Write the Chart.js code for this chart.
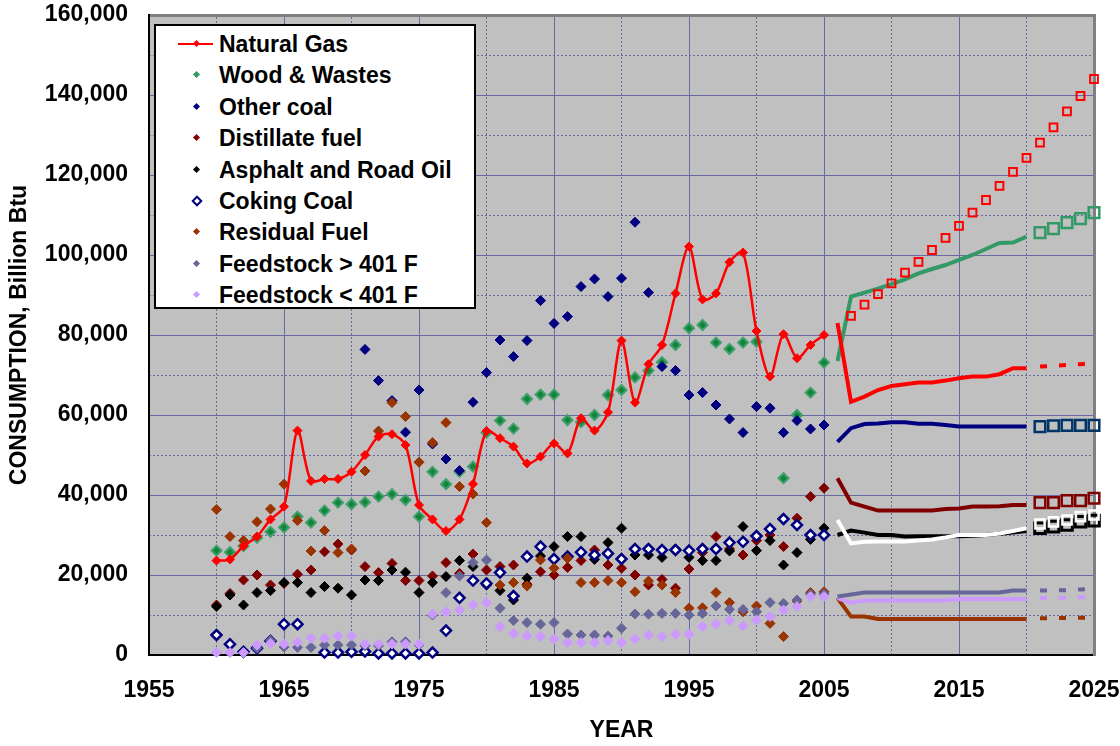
<!DOCTYPE html>
<html>
<head>
<meta charset="utf-8">
<script src="https://cdn.jsdelivr.net/npm/chart.js@4.4.0/dist/chart.umd.min.js"></script>
<style>
  body { margin: 0; background: #fff; }
  #wrap { position: relative; width: 1120px; height: 746px; }
  #legend {
    position: absolute; left: 154px; top: 24px; width: 318px; height: 281px;
    background: #fff; border: 2px solid #000;
    font: bold 23px "Liberation Sans", Arial, sans-serif; color: #000;
  }
  .row { position: absolute; left: 0; width: 318px; height: 28px; line-height: 28px; white-space: nowrap; }
  .row .txt { position: absolute; left: 63px; top: 0; }
  .row .dia { position: absolute; left: 38px; top: 11px; width: 5px; height: 5px; transform: rotate(45deg); }
  .row .ln { position: absolute; left: 22px; top: 13px; width: 35px; height: 2px; background: #f00; }
</style>
</head>
<body>
<div id="wrap">
  <canvas id="chart" width="1120" height="746"></canvas>
  <div id="legend"></div>
</div>
<script>
// historical years and values (Billion Btu)
const histYears = [1960,1961,1962,1963,1964,1965,1966,1967,1968,1969,
                   1970,1971,1972,1973,1974,1975,1976,1977,1978,1979,
                   1980,1981,1982,1983,1984,1985,1986,1987,1988,1989,
                   1990,1991,1992,1993,1994,1995,1996,1997,1998,1999,
                   2000,2001,2002,2003,2004,2005];

const naturalGas = [23600,23900,27250,29600,33900,37100,56100,43500,44000,44000,
                    45800,50000,54600,55200,52500,37500,33900,31000,33900,42750,
                    56000,54200,52100,47900,49600,52900,50400,59200,56100,60700,
                    78600,63100,72700,77500,90400,102100,88900,90400,98200,100600,
                    81000,69600,80200,74200,77500,80000];
const woodWastes = [26100,25700,27250,29300,30800,31900,34600,33100,36100,38100,
                    37700,38200,39600,40200,38750,34600,45800,42700,45800,47100,
                    55600,58600,56600,64000,65100,65100,58750,58200,60000,65000,
                    66250,69400,71100,73200,77500,81700,82500,78100,76500,78100,
                    78300,null,44200,60000,65600,73100];
const otherCoal = [null,null,null,null,null,null,null,null,null,null,
                   null,76400,68600,63600,55700,66250,52750,49000,46100,63200,
                   70600,78750,74600,78600,88600,82900,84600,92100,94000,89600,
                   94200,108200,90600,72100,71100,65000,65600,62500,59000,55600,
                   62100,61700,55600,58600,56500,57500];
const distillate = [12500,15400,18750,20000,17500,17900,20200,21250,25800,27750,
                    26250,22100,20600,22900,18600,18600,19750,23100,20400,25250,
                    21250,22100,22500,17700,20800,20000,21900,23600,26250,22500,
                    21700,20000,17500,18900,16700,21500,25600,29600,26500,25000,
                    28600,30000,27100,34200,39600,41700];
const asphalt = [12100,15000,12500,15600,16100,18100,18100,15600,17100,16700,
                 15000,18750,18600,21250,20700,15600,18100,19600,23600,22100,
                 17500,16100,13750,19200,24750,27100,29600,29600,23900,28100,
                 31700,25000,25000,24400,26500,24400,23600,23600,26000,32100,
                 26100,28600,22500,25600,28900,31700];
const cokingCoal = [5000,2700,800,1700,3500,7700,7700,null,600,600,
                    800,900,400,400,400,400,600,6100,14300,18600,
                    17900,20600,14750,24600,27100,24000,24600,25700,25000,25400,
                    24000,26500,26500,26250,26250,26100,26500,26500,28100,28300,
                    29750,31500,34000,32500,30000,30000];
const residualFuel = [36400,29600,28600,33300,36500,42700,33600,26000,31100,25600,
                      26500,46000,56000,63100,59600,48200,53100,58100,42100,40250,
                      33100,17500,18100,17250,23750,21700,24200,18100,18100,18600,
                      18100,15800,18500,17500,15600,11700,11800,15600,13100,10800,
                      12250,7900,4600,13500,15600,15800];
const feedHigh = [null,null,null,1700,3600,2000,1900,1900,2500,2500,
                  2500,2300,2300,3300,3300,2500,10000,15600,19750,23100,
                  23750,11700,8600,8100,7700,8100,5250,5000,5000,4750,
                  6700,10250,10200,10400,10400,10000,10400,12250,11400,11400,
                  10800,13100,12900,13750,15200,15300];
const feedLow = [600,600,600,2500,2900,2750,3200,4200,4200,4750,
                 4750,2750,2750,2750,2750,2750,10250,10800,11250,12500,
                 13100,7100,5400,4800,4600,4000,3100,3100,3100,3600,
                 3100,4000,5000,4600,5200,5200,7100,7750,8600,7250,
                 8750,9600,11250,12100,14600,14600];

// projections 2006-2020
const projYears = [2006,2007,2008,2009,2010,2011,2012,2013,2014,2015,2016,2017,2018,2019,2020];
const projGas = [83000,63300,64600,66250,67250,67700,68100,68100,68600,69200,69600,69600,70200,71700,71700];
const projWood = [73500,89600,90600,91600,92700,93900,95400,96500,97500,98800,100000,101500,103000,103100,104600];
const projCoal = [53300,56700,57750,57900,58200,58200,57800,57800,57500,57100,57100,57100,57100,57100,57100];
const projDistillate = [44200,38100,37100,36100,36100,36100,36100,36100,36500,36600,37100,37100,37200,37500,37500];
const projAsphalt = [30000,31100,30600,30000,30000,29600,29700,29700,29700,29700,29800,30000,30300,30600,31000];
const projCoking = [33750,27900,28300,28400,28400,28400,28600,28900,29400,30000,30000,30000,30400,31000,31700];
const projFeedHigh = [14600,15100,15600,15600,15600,15600,15600,15600,15600,15600,15600,15600,15600,16100,16100];
const projFeedLow = [14250,13100,13600,13600,13600,13600,13600,13600,13600,14000,14000,14000,14000,14000,14000];
const projResidual = [14250,9600,9600,9000,9000,9000,9000,9000,9000,9000,9000,9000,9000,9000,9000];

// natural gas high case squares 2007-2025
const gasHighYears = [2007,2008,2009,2010,2011,2012,2013,2014,2015,2016,2017,2018,2019,2020,2021,2022,2023,2024,2025];
const gasHigh = [84800,87600,90200,92900,95600,98300,101250,104300,107300,110600,113750,117300,120800,124300,128100,131900,135900,139750,144000];

// 2021-2025 end points
const endYears = [2021,2022,2023,2024,2025];
const endWood = [105600,106600,108100,109100,110600];
const endCoal = [57100,57300,57400,57400,57400];
const endDistillate = [38100,38100,38600,38600,39200];
const endAsphalt = [31700,32100,32500,33300,33600];
const endCoking = [32750,33300,33750,34600,35000];
const endGas = [72100,72300,72500,72700,73000];
const endFeedHigh = [16100,16200,16200,16400,16600];
const endFeedLow = [14200,14250,14300,14450,14600];
const endResidual = [9200,9200,9250,9300,9300];

// axis ticks
const minorYearTicks = [1960,1970,1980,1990,2000,2010,2020];
const minorValueTicks = [10000,30000,50000,70000,90000,110000,130000,150000];

const legendItems = [
    { label: 'Natural Gas', color: '#ff0000', line: true },
    { label: 'Wood & Wastes', color: '#339966' },
    { label: 'Other coal', color: '#000080' },
    { label: 'Distillate fuel', color: '#800000' },
    { label: 'Asphalt and Road Oil', color: '#000000' },
    { label: 'Coking Coal', color: '#ffffff', border: '#000080' },
    { label: 'Residual Fuel', color: '#993300' },
    { label: 'Feedstock > 401 F', color: '#666699' },
    { label: 'Feedstock < 401 F', color: '#cc99ff' }
];

function pts(xs, ys) {
    return xs.map((x, i) => ({ x: x, y: ys[i] }));
}

function dots(values, color, border, bw) {
    return {
        data: pts(histYears, values),
        showLine: false,
        pointStyle: 'rectRot',
        pointRadius: 5,
        pointBackgroundColor: color,
        pointBorderColor: border || color,
        pointBorderWidth: bw || 1,
        clip: false
    };
}

function projLine(xs, values, color, dash) {
    return {
        data: pts(xs, values),
        borderColor: color,
        borderWidth: 4,
        borderDash: dash || [],
        pointRadius: 0,
        tension: 0,
        clip: false
    };
}

function squares(xs, values, color, r, bw) {
    return {
        data: pts(xs, values),
        showLine: false,
        pointStyle: 'rect',
        pointRadius: r,
        pointBackgroundColor: 'rgba(0,0,0,0)',
        pointBorderColor: color,
        pointBorderWidth: bw,
        clip: false
    };
}

// first dataset is drawn on top
const datasets = [
    squares(endYears, endCoking, '#ffffff', 6.5, 2.5),
    squares(endYears, endAsphalt, '#000000', 7.5, 3),
    squares(endYears, endDistillate, '#800000', 7.5, 2.5),
    squares(endYears, endCoal, '#003366', 7.5, 2.5),
    squares(endYears, endWood, '#339966', 7.5, 2.5),
    squares(gasHighYears, gasHigh, '#ff0000', 5.5, 2),
    projLine(endYears, endGas, '#ff0000', [7, 12]),
    projLine(endYears, endFeedHigh, '#666699', [7, 12]),
    projLine(endYears, endFeedLow, '#cc99ff', [7, 12]),
    projLine(endYears, endResidual, '#993300', [7, 12]),
    projLine(projYears, projCoking, '#ffffff'),
    projLine(projYears, projAsphalt, '#000000'),
    projLine(projYears, projGas, '#ff0000'),
    projLine(projYears, projWood, '#339966'),
    projLine(projYears, projCoal, '#000080'),
    projLine(projYears, projDistillate, '#800000'),
    projLine(projYears, projFeedHigh, '#666699'),
    projLine(projYears, projFeedLow, '#cc99ff'),
    projLine(projYears, projResidual, '#993300'),
    {
        data: pts(histYears, naturalGas),
        borderColor: '#ff0000',
        borderWidth: 2.5,
        tension: 0.3,
        pointStyle: 'rectRot',
        pointRadius: 4.5,
        pointBackgroundColor: '#ff0000',
        pointBorderColor: '#ff0000',
        pointBorderWidth: 1,
        clip: false
    },
    dots(feedLow, '#cc99ff'),
    dots(feedHigh, '#666699'),
    dots(residualFuel, '#993300'),
    dots(cokingCoal, '#ffffff', '#000080', 2.5),
    dots(asphalt, '#000000'),
    dots(distillate, '#800000'),
    dots(otherCoal, '#000080'),
    dots(woodWastes, '#13853b', '#3fa06c', 2)
];

const gridColor = '#6a6aa2';

// plot area background
const plotBg = {
    id: 'plotBg',
    beforeDraw(chart) {
        const a = chart.chartArea;
        const ctx = chart.ctx;
        ctx.save();
        ctx.fillStyle = '#c0c0c0';
        ctx.fillRect(a.left, a.top, a.right - a.left, a.bottom - a.top);
        ctx.restore();
    }
};

Chart.defaults.font.family = '"Liberation Sans", Arial, sans-serif';
Chart.defaults.font.weight = 'bold';
Chart.defaults.font.size = 23;
Chart.defaults.color = '#000';

new Chart(document.getElementById('chart'), {
    type: 'line',
    data: { datasets: datasets },
    plugins: [plotBg],
    options: {
        responsive: false,
        animation: false,
        layout: { padding: { top: 15, right: 26, left: 0, bottom: 0 } },
        plugins: { legend: { display: false }, tooltip: { enabled: false } },
        scales: {
            x: {
                type: 'linear',
                position: 'bottom',
                min: 1955,
                max: 2025,
                ticks: { stepSize: 10, padding: 22, autoSkip: false, maxRotation: 0, callback: v => String(v) },
                grid: { color: gridColor, lineWidth: 1, drawTicks: false },
                border: { color: '#000', width: 2 },
                title: { display: true, text: 'YEAR', padding: { top: 0, bottom: 2 } },
                afterFit: s => { s.height = 91; s.paddingLeft = 0; s.paddingRight = 0; }
            },
            xMinor: {
                type: 'linear',
                position: 'top',
                min: 1955,
                max: 2025,
                ticks: { display: false },
                grid: { color: gridColor, lineWidth: 1, drawTicks: false },
                border: { color: '#808080', width: 3, dash: [2, 2] },
                afterBuildTicks: s => { s.ticks = minorYearTicks.map(v => ({ value: v })); },
                afterFit: s => { s.height = 0; s.paddingLeft = 0; s.paddingRight = 0; }
            },
            y: {
                min: 0,
                max: 160000,
                ticks: { stepSize: 20000, padding: 21, callback: v => v.toLocaleString('en-US') },
                grid: { color: gridColor, lineWidth: 1, drawTicks: false },
                border: { color: '#000', width: 2 },
                title: { display: true, text: 'CONSUMPTION, Billion Btu', padding: { top: 6, bottom: 0 } },
                afterFit: s => { s.width = 149; s.paddingTop = 0; s.paddingBottom = 0; }
            },
            yMinor: {
                position: 'right',
                min: 0,
                max: 160000,
                ticks: { display: false },
                grid: { color: gridColor, lineWidth: 1, drawTicks: false },
                border: { color: '#808080', width: 3, dash: [2, 2] },
                afterBuildTicks: s => { s.ticks = minorValueTicks.map(v => ({ value: v })); },
                afterFit: s => { s.width = 0; s.paddingTop = 0; s.paddingBottom = 0; }
            }
        }
    }
});

// legend box
const legend = document.getElementById('legend');
legendItems.forEach((item, i) => {
    const row = document.createElement('div');
    row.className = 'row';
    row.style.top = (4 + i * 31.4) + 'px';
    let html = '';
    if (item.line) html += '<div class="ln"></div>';
    const bw = item.border ? 2 : 0;
    html += `<div class="dia" style="background:${item.color};border:${bw}px solid ${item.border || item.color};` +
            (item.border ? 'width:4px;height:4px;left:37px;top:10px;' : '') + '"></div>';
    html += `<span class="txt">${item.label}</span>`;
    row.innerHTML = html;
    legend.appendChild(row);
});
</script>
</body>
</html>
